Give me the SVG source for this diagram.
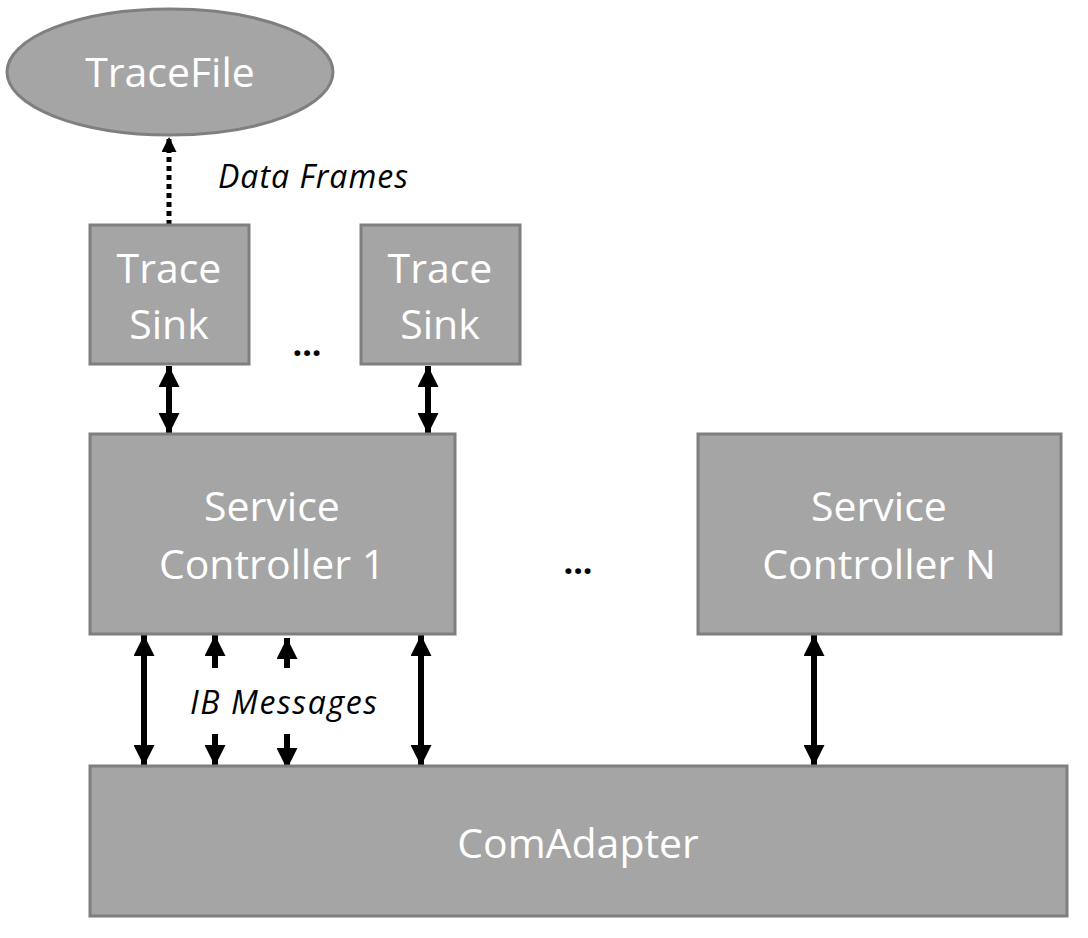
<svg xmlns="http://www.w3.org/2000/svg" width="1088" height="938" viewBox="0 0 1088 938">
<defs>
<style>
.n{fill:#a5a5a5;stroke:#7f7f7f;stroke-width:3}
.t{font-family:"Open Sans","Noto Sans",sans-serif;fill:#fff;text-anchor:middle;font-size:41px}
.l{font-family:"Open Sans","Noto Sans",sans-serif;font-style:italic;fill:#000;font-size:32px}
.d{font-family:"Open Sans","Noto Sans",sans-serif;fill:#000;font-size:34px;text-anchor:middle;font-weight:bold}
.c{stroke:#000;stroke-width:6;fill:none}
</style>
<marker id="ah" viewBox="0 0 10 10" refX="10" refY="5" markerUnits="userSpaceOnUse" markerWidth="22" markerHeight="21" orient="auto-start-reverse"><path d="M0,0L10,5L0,10z" fill="#000"/></marker>
<marker id="ahs" viewBox="0 0 10 10" refX="10" refY="5" markerUnits="userSpaceOnUse" markerWidth="16" markerHeight="15" orient="auto"><path d="M0,0L10,5L0,10z" fill="#000"/></marker>
</defs>
<rect width="1088" height="938" fill="#fff"/>
<g id="connectors">
<line x1="169" y1="225" x2="169" y2="137" stroke="#000" stroke-width="5" stroke-dasharray="5,4" marker-end="url(#ahs)"/>
<line class="c" x1="169" y1="366" x2="169" y2="434" marker-start="url(#ah)" marker-end="url(#ah)"/>
<line class="c" x1="428" y1="366" x2="428" y2="434" marker-start="url(#ah)" marker-end="url(#ah)"/>
<line class="c" x1="144" y1="635" x2="144" y2="766" marker-start="url(#ah)" marker-end="url(#ah)"/>
<line class="c" x1="421" y1="635" x2="421" y2="766" marker-start="url(#ah)" marker-end="url(#ah)"/>
<line class="c" x1="814" y1="635" x2="814" y2="766" marker-start="url(#ah)" marker-end="url(#ah)"/>
<line class="c" x1="215" y1="668" x2="215" y2="635" marker-end="url(#ah)"/>
<line class="c" x1="215" y1="734" x2="215" y2="766" marker-end="url(#ah)"/>
<line class="c" x1="287" y1="668" x2="287" y2="638" marker-end="url(#ah)"/>
<line class="c" x1="287" y1="734" x2="287" y2="769" marker-end="url(#ah)"/>
</g>
<g id="tracefile"><ellipse class="n" cx="170" cy="72" rx="163" ry="63"/><text class="t" x="170" y="87">TraceFile</text></g>
<g id="sink1"><rect class="n" x="90" y="225" width="159" height="139"/><text class="t" x="169" y="283">Trace</text><text class="t" x="169" y="339">Sink</text></g>
<g id="sink2"><rect class="n" x="361" y="225" width="159" height="139"/><text class="t" x="440" y="283">Trace</text><text class="t" x="440" y="339">Sink</text></g>
<g id="sc1"><rect class="n" x="90" y="434" width="365" height="200"/><text class="t" x="272" y="521">Service</text><text class="t" x="272" y="579">Controller 1</text></g>
<g id="scn"><rect class="n" x="698" y="434" width="363" height="200"/><text class="t" x="879" y="521">Service</text><text class="t" x="879" y="579">Controller N</text></g>
<g id="comadapter"><rect class="n" x="90" y="766" width="977" height="150"/><text class="t" x="578" y="858">ComAdapter</text></g>
<g id="labels">
<text class="l" x="218" y="188" textLength="190" lengthAdjust="spacing">Data Frames</text>
<text class="l" x="190" y="714" textLength="187" lengthAdjust="spacing">IB Messages</text>
<text class="d" x="307" y="356">...</text>
<text class="d" x="578" y="574">...</text>
</g>
</svg>
